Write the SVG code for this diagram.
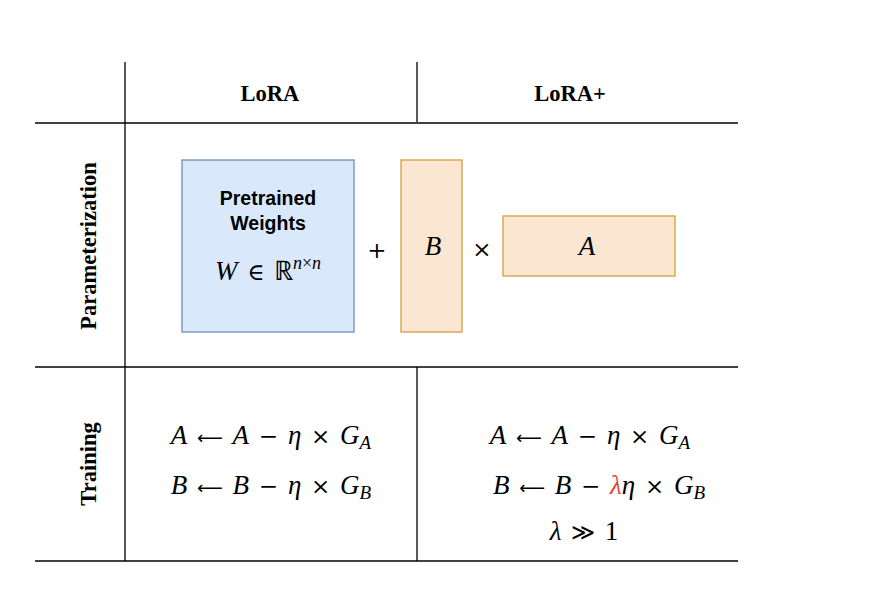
<svg xmlns="http://www.w3.org/2000/svg" width="883" height="606" viewBox="0 0 883 606">
<style>
.ln{stroke:#000;stroke-width:1.3;fill:none}
.hd{font-family:"Liberation Serif",serif;font-weight:bold;font-size:22.5px;text-anchor:middle}
.m{font-family:"Liberation Serif",serif;font-size:27px;text-anchor:middle;word-spacing:3px}
.i{font-style:italic}
.op{font-family:"DejaVu Serif",serif;font-size:23px}
.ar{font-family:"DejaVu Sans",sans-serif;font-size:18px}
.sub{font-size:19px;font-style:italic}
.sans{font-family:"Liberation Sans",Arial,sans-serif;font-weight:bold;font-size:19.5px;text-anchor:middle}
.or{fill:#fbe6d1;stroke:#d9aa4f;stroke-width:1.5}
</style>
<rect width="883" height="606" fill="#fff"/>
<g id="grid">
<line class="ln" x1="125" y1="62" x2="125" y2="561"/>
<line class="ln" x1="417" y1="62" x2="417" y2="122"/>
<line class="ln" x1="417" y1="367" x2="417" y2="561"/>
<line class="ln" x1="35" y1="123" x2="738" y2="123"/>
<line class="ln" x1="35" y1="367" x2="738" y2="367"/>
<line class="ln" x1="35" y1="561" x2="738" y2="561"/>
</g>
<g id="headers">
<text class="hd" x="270" y="101">LoRA</text>
<text class="hd" x="570" y="101">LoRA+</text>
<text class="hd" transform="translate(96,246) rotate(-90)">Parameterization</text>
<text class="hd" transform="translate(96,464) rotate(-90)">Training</text>
</g>
<g id="pretrained">
<rect x="182" y="160" width="172" height="172" fill="#dae8fc" stroke="#6c8ebf" stroke-width="1.3"/>
<text class="sans" x="268" y="205">Pretrained</text>
<text class="sans" x="268" y="230">Weights</text>
<text class="m" x="268" y="280"><tspan class="i">W</tspan> <tspan class="op" font-size="26">∈</tspan> ℝ<tspan class="i" font-size="18" dy="-11">n</tspan><tspan font-size="18">×</tspan><tspan class="i" font-size="18">n</tspan></text>
</g>
<g id="plus"><text class="m" x="377" y="258"><tspan class="op">+</tspan></text></g>
<g id="B">
<rect class="or" x="401" y="160" width="61" height="172"/>
<text class="m i" x="433" y="255">B</text>
</g>
<g id="times"><text class="m" x="482" y="257"><tspan class="op">×</tspan></text></g>
<g id="A">
<rect class="or" x="503" y="216" width="172" height="60"/>
<text class="m i" x="587" y="255">A</text>
</g>
<g id="lora-train">
<text class="m" x="271" y="444"><tspan class="i">A</tspan> <tspan class="ar">⟵</tspan> <tspan class="i">A</tspan> <tspan class="op">−</tspan> <tspan class="i">η</tspan> <tspan class="op">×</tspan> <tspan class="i">G</tspan><tspan class="sub" dy="5">A</tspan></text>
<text class="m" x="271" y="494"><tspan class="i">B</tspan> <tspan class="ar">⟵</tspan> <tspan class="i">B</tspan> <tspan class="op">−</tspan> <tspan class="i">η</tspan> <tspan class="op">×</tspan> <tspan class="i">G</tspan><tspan class="sub" dy="5">B</tspan></text>
</g>
<g id="loraplus-train">
<text class="m" x="590" y="444"><tspan class="i">A</tspan> <tspan class="ar">⟵</tspan> <tspan class="i">A</tspan> <tspan class="op">−</tspan> <tspan class="i">η</tspan> <tspan class="op">×</tspan> <tspan class="i">G</tspan><tspan class="sub" dy="5">A</tspan></text>
<text class="m" x="599" y="494"><tspan class="i">B</tspan> <tspan class="ar">⟵</tspan> <tspan class="i">B</tspan> <tspan class="op">−</tspan> <tspan class="i" fill="#e8432d">λ</tspan><tspan class="i">η</tspan> <tspan class="op">×</tspan> <tspan class="i">G</tspan><tspan class="sub" dy="5">B</tspan></text>
<text class="m" x="584" y="540"><tspan class="i">λ</tspan> <tspan class="op" font-size="27">≫</tspan> 1</text>
</g>
</svg>
